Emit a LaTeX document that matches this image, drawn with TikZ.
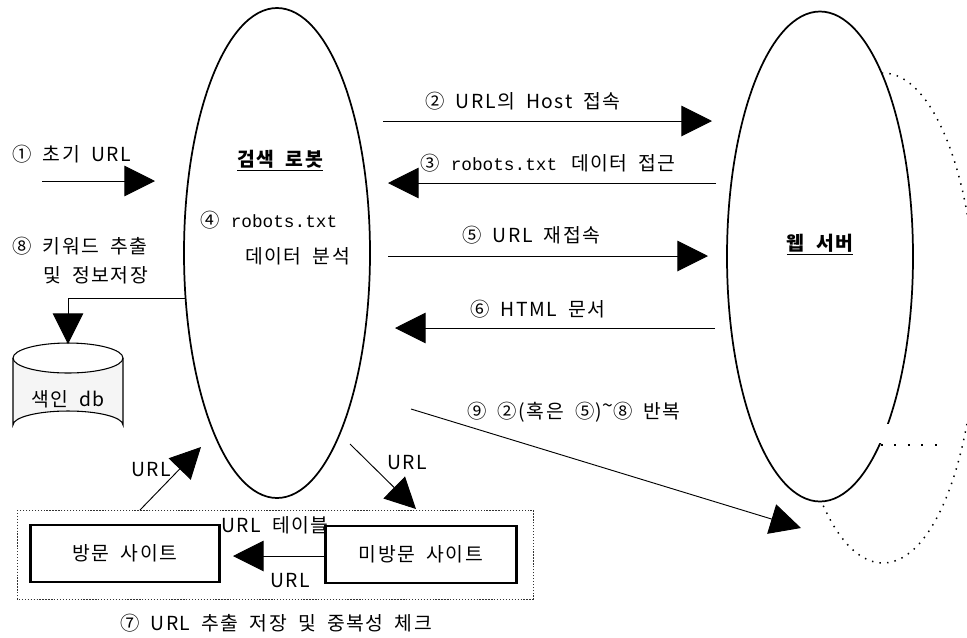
\documentclass[tikz,border=0pt]{standalone}
\usepackage{fontspec}
\setmainfont{Noto Sans CJK KR}[WordSpace=1.9,LetterSpace=8]
\newfontfamily\robotsfont{Liberation Mono}
\newcommand{\robotstxt}{{\robotsfont\fontsize{13.3}{17}\selectfont robots.txt}}
\usetikzlibrary{arrows.meta,shapes.geometric}
\begin{document}
\begin{tikzpicture}[x=0.75pt,y=-0.75pt,
  font=\fontsize{14.5}{17}\selectfont,
  conn/.style={line width=0.7pt,-{Triangle[length=23pt,width=23pt]}},
  lbl/.style={inner sep=0pt,anchor=base west},
  oval/.style={ellipse,draw,line width=1.3pt,inner sep=0pt,minimum width=139.5pt,minimum height=367.5pt},
  sitebox/.style={draw,line width=1.8pt,inner sep=0pt,minimum width=142pt,minimum height=43pt},
  dotline/.style={line width=1.1pt,dash pattern=on 1.1pt off 4.6pt}
]
\path[use as bounding box] (0,0) rectangle (967,637);

% dotted second server (behind)
\begin{scope}
  \clip (0,0) rectangle (967,637);
  \draw[dotline] (883,318) ellipse [x radius=93, y radius=245];
\end{scope}

% ellipses
\node[oval] (robot) at (277,253) {};
\node[oval,fill=white] (web) at (820,256.5) {};
\fill[white] (876,424) rectangle (895,443);
\draw[line width=1.3pt,dash pattern=on 1.4pt off 8.7pt] (881,445) -- (940,445);

% ellipse titles
\node[inner sep=0pt] (robotname) at (280,161) {\bfseries\underline{검색 로봇}};
\node[inner sep=0pt] (webname) at (820,245) {\bfseries\underline{웹 서버}};
\node[lbl] (t4a) at (200,227) {④ \robotstxt};
\node[lbl] (t4b) at (245,263) {데이터 분석};

% step 1
\node[lbl] (t1) at (12,161) {① 초기 URL};
\coordinate (a1s) at (42,181);
\coordinate (a1e) at (155,181);
\draw[conn] (a1s) -- (a1e);

% step 2
\node[lbl] (t2) at (425,108) {② URL의 Host 접속};
\coordinate (a2s) at (383,121);
\coordinate (a2e) at (712,121);
\draw[conn] (a2s) -- (a2e);

% step 3
\node[lbl] (t3) at (420,170) {③ \robotstxt{}\hspace{2pt} 데이터 접근};
\coordinate (a3s) at (716,183);
\coordinate (a3e) at (388,183);
\draw[conn] (a3s) -- (a3e);

% step 5
\node[lbl] (t5) at (462,242) {⑤ URL 재접속};
\coordinate (a5s) at (388,256);
\coordinate (a5e) at (708,256);
\draw[conn] (a5s) -- (a5e);

% step 6
\node[lbl] (t6) at (470,316) {⑥ HTML 문서};
\coordinate (a6s) at (715,328);
\coordinate (a6e) at (395,328);
\draw[conn] (a6s) -- (a6e);

% step 9
\node[lbl] (t9) at (467,418) {⑨ ②(혹은 ⑤)\raisebox{0.3em}{\textasciitilde}⑧ 반복};
\coordinate (a9s) at (411,409);
\coordinate (a9e) at (801,528);
\draw[conn] (a9s) -- (a9e);

% step 8 and db
\node[lbl] (t8a) at (12,253) {⑧ 키워드 추출};
\node[lbl] (t8b) at (43,282) {및 정보저장};
\fill[black!4] (13,358) -- (13,425) arc[start angle=180,end angle=360,x radius=55,y radius=14] -- (123,358) arc[start angle=0,end angle=180,x radius=55,y radius=15] -- cycle;
\draw[line width=0.8pt] (13,358) -- (13,425) arc[start angle=180,end angle=360,x radius=55,y radius=14] -- (123,358);
\draw[line width=0.8pt] (68,358) ellipse [x radius=55, y radius=15];
\node[inner sep=0pt] (db) at (68,399) {색인 db};
\coordinate (dbtop) at (68,344);
\coordinate (a8s) at (186,298);
\draw[conn] (a8s) -| (dbtop);

% URL table
\draw[line width=0.6pt,dash pattern=on 1pt off 1.2pt,black!80] (17,510) rectangle (533,599);
\node[sitebox] (visited) at (125,553.5) {방문 사이트};
\node[sitebox,minimum width=143pt] (unvisited) at (421,554.5) {미방문 사이트};
\node[lbl] (ttable) at (221,532) {URL 테이블};
\draw[conn] (unvisited.west |- 0,556) -- (233,556);
\node[lbl] (turl3) at (270,587) {URL};
\node[inner sep=0pt] (t7) at (276,623) {⑦ URL 추출 저장 및 중복성 체크};

% URL arrows between robot and table
\coordinate (u1s) at (140,510);
\coordinate (u1e) at (201,447);
\draw[conn] (u1s) -- (u1e);
\node[lbl] (turl1) at (131,476) {URL};
\coordinate (u2s) at (350,444);
\coordinate (u2e) at (416,509);
\draw[conn] (u2s) -- (u2e);
\node[lbl] (turl2) at (387,469) {URL};
\end{tikzpicture}
\end{document}
